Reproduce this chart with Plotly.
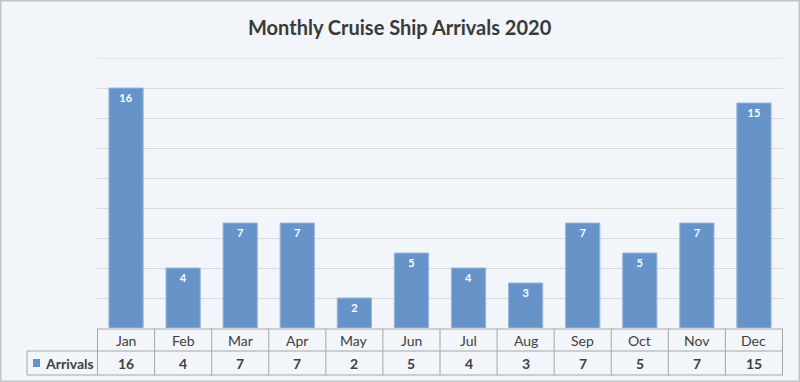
import plotly.graph_objects as go

months = ["Jan", "Feb", "Mar", "Apr", "May", "Jun", "Jul", "Aug", "Sep", "Oct", "Nov", "Dec"]
arrivals = [16, 4, 7, 7, 2, 5, 4, 3, 7, 5, 7, 15]
series_name = "Arrivals"
title_text = "Monthly Cruise Ship Arrivals 2020"

W, H = 800, 382
FONT = "Lato"
BAR = "#6794c8"
LINE = "#a6a6a6"
Y_MAX = 18

def py(p):
    return 1 - p / H

fig = go.Figure()
fig.add_trace(go.Bar(
    x=months, y=arrivals, name=series_name,
    marker=dict(color=BAR, line=dict(color="#9bb6db", width=1)),
    text=[str(v) for v in arrivals],
    textposition="inside", insidetextanchor="end", textangle=0,
    textfont=dict(family=FONT, size=11, color="white", weight="bold"),
    cliponaxis=False, showlegend=False,
))

shapes = []
ann = []
n = len(months)
# top gridline (at axis max)
shapes.append(dict(type="line", xref="x", yref="y", x0=-0.5, x1=n - 0.5,
                   y0=Y_MAX, y1=Y_MAX, line=dict(color="#d9d9d9", width=1), layer="below"))
shapes.append(dict(type="line", xref="x", yref="paper", x0=-0.5, x1=n - 0.5,
                   y0=py(329), y1=py(329), line=dict(color=LINE, width=1)))
for yy in (351, 375):
    shapes.append(dict(type="line", xref="paper", yref="paper", x0=27 / W, x1=783 / W,
                       y0=py(yy), y1=py(yy), line=dict(color=LINE, width=1)))
for i in range(n + 1):
    shapes.append(dict(type="line", xref="x", yref="paper", x0=i - 0.5, x1=i - 0.5,
                       y0=py(329), y1=py(375), line=dict(color=LINE, width=1)))
shapes.append(dict(type="line", xref="paper", yref="paper", x0=27 / W, x1=27 / W,
                   y0=py(351), y1=py(375), line=dict(color=LINE, width=1)))
shapes.append(dict(type="rect", xref="paper", yref="paper", x0=33 / W, x1=40 / W,
                   y0=py(367), y1=py(359), fillcolor=BAR, line=dict(width=0)))
shapes.append(dict(type="rect", xref="paper", yref="paper", x0=0.001, x1=0.999,
                   y0=0.002, y1=0.998, line=dict(color="#c4c4c4", width=1.5)))

for m, v in zip(months, arrivals):
    ann.append(dict(x=m, y=py(340), xref="x", yref="paper", text=m, showarrow=False,
                    font=dict(family=FONT, size=14, color="#404040"), yanchor="middle"))
    ann.append(dict(x=m, y=py(363), xref="x", yref="paper", text=str(v), showarrow=False,
                    font=dict(family=FONT, size=14, color="#404040", weight="bold"), yanchor="middle"))
ann.append(dict(x=43 / W, y=py(363), xref="paper", yref="paper", text=series_name,
                showarrow=False, xanchor="left", yanchor="middle",
                font=dict(family=FONT, size=14, color="#404040", weight="bold")))
ann.append(dict(x=0.5, y=py(27), xref="paper", yref="paper", text=title_text,
                showarrow=False, xanchor="center", yanchor="middle",
                font=dict(family=FONT, size=20, color="#3a3a3a", weight="bold")))

fig.update_layout(
    width=W, height=H,
    margin=dict(l=0, r=0, t=0, b=0),
    paper_bgcolor="#f2f5f9", plot_bgcolor="rgba(0,0,0,0)",
    bargap=0.4,
    shapes=shapes, annotations=ann,
    xaxis=dict(domain=[97 / W, 783 / W], showticklabels=False, showgrid=False,
               zeroline=False, showline=False, ticks="", fixedrange=True),
    yaxis=dict(domain=[py(328), py(58)], range=[0, Y_MAX], dtick=2, showticklabels=False,
               showgrid=True, gridcolor="#d9d9d9", gridwidth=1, zeroline=False,
               showline=False, ticks=""),
    font=dict(family=FONT),
)

fig.write_html("out.html", config={"displayModeBar": False},
               post_script="document.body.style.margin='0';document.body.style.overflow='hidden';")
